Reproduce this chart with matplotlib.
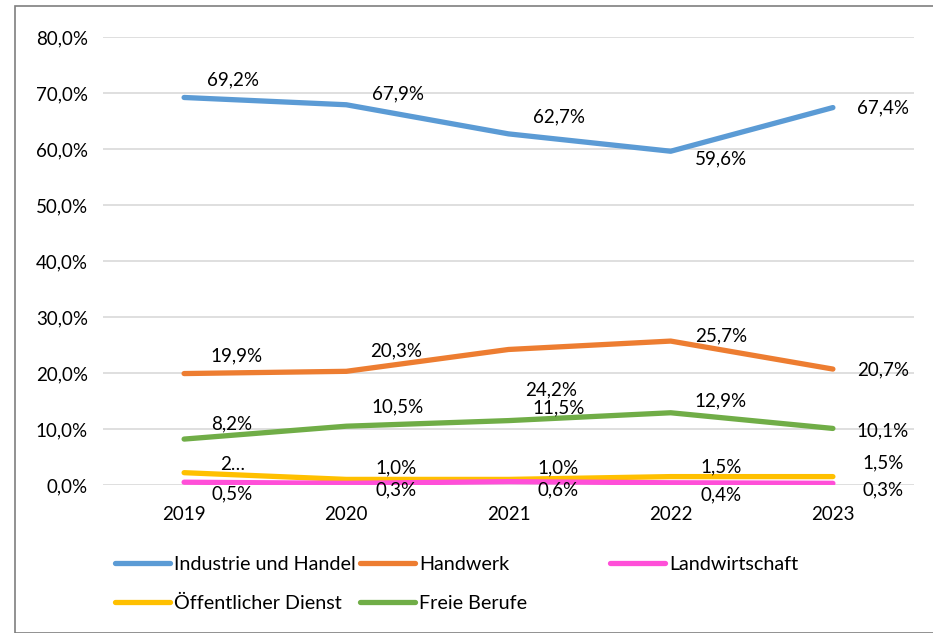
import matplotlib
matplotlib.use("Agg")
import matplotlib.pyplot as plt
from matplotlib.patches import Rectangle
from matplotlib.lines import Line2D

plt.rcParams['font.family'] = ['Lato', 'DejaVu Sans']

years = ["2019", "2020", "2021", "2022", "2023"]
industrie = [69.2, 67.9, 62.7, 59.6, 67.4]
handwerk = [19.9, 20.3, 24.2, 25.7, 20.7]
landwirtschaft = [0.5, 0.3, 0.6, 0.4, 0.3]
oeffentlich = [2.2, 1.0, 1.0, 1.5, 1.5]
freie = [8.2, 10.5, 11.5, 12.9, 10.1]
yticks = [0, 10, 20, 30, 40, 50, 60, 70, 80]

names = ["Industrie und Handel", "Handwerk", "Landwirtschaft",
         "Öffentlicher Dienst", "Freie Berufe"]
colors = ["#5b9bd5", "#ed7d31", "#ff4fd8", "#ffc000", "#70ad47"]

# label offsets in pixels (dx, dy) per series
offs = {
    "Industrie und Handel": [(49, 18), (52, 11), (50, 17), (50, -8), (50, 0)],
    "Handwerk": [(52, 18), (50, 20), (43, -40), (50, 5), (50, -1)],
    "Landwirtschaft": [(48, -12), (50, -7), (50, -8), (50, -12), (50, -7)],
    "Öffentlicher Dienst": [(49, 8), (50, 12), (50, 12), (50, 10), (50, 14)],
    "Freie Berufe": [(48, 15), (51, 19), (50, 13), (50, 12), (50, -2)],
}

FS = 13.5
W, H = 933, 633
fig = plt.figure(figsize=(W / 100, H / 100), dpi=100)
ax = fig.add_axes([103 / W, (H - 485) / H, (914 - 103) / W, (485 - 37) / H])

x = list(range(len(years)))
series = [industrie, handwerk, landwirtschaft, oeffentlich, freie]
order = [0, 1, 4, 3, 2]
for i in order:
    ax.plot(x, series[i], color=colors[i], lw=3.8, solid_capstyle='round', zorder=3)

def fmt(v):
    return f"{v:.1f}%".replace(".", ",")

for i, s in enumerate(series):
    for j, v in enumerate(s):
        txt = fmt(v)
        if names[i] == "Öffentlicher Dienst" and j == 0:
            txt = "2…"
        dx, dy = offs[names[i]][j]
        ax.annotate(txt, (j, v), xytext=(dx * 0.72, dy * 0.72), textcoords='offset points',
                    ha='center', va='center', fontsize=FS, color='#000000', zorder=5)

ax.set_xlim(-0.5, 4.5)
ax.set_ylim(0, 80)
ax.set_yticks(yticks)
ax.set_yticklabels([f"{t:.1f}%".replace(".", ",") for t in yticks], fontsize=FS)
ax.set_xticks(x)
ax.set_xticklabels(years, fontsize=FS)
ax.grid(axis='y', color='#d9d9d9', lw=1.2)
ax.set_axisbelow(True)
for sp in ax.spines.values():
    sp.set_visible(False)
ax.tick_params(length=0, pad=11)
ax.tick_params(axis='x', pad=15)

LFS = 14.2
handles = [Line2D([0], [0], color=c, lw=3.8, solid_capstyle='round') for c in colors]
columns = [([0, 3], 115), ([1, 4], 360), ([2], 610)]
for idx, xpx in columns:
    fig.legend([handles[k] for k in idx], [names[k] for k in idx],
               ncol=1, loc='upper left', bbox_to_anchor=(xpx / W, 1 - 556 / H),
               frameon=False, fontsize=LFS, handlelength=2.8, handletextpad=0.2,
               labelspacing=1.1, borderaxespad=0, borderpad=0)

fig.patches.append(Rectangle((15 / W, 0), 1, 1 - 6 / H, transform=fig.transFigure,
                             fill=False, edgecolor='#7f7f7f', lw=1.2))

fig.savefig("out.png", dpi=100)
